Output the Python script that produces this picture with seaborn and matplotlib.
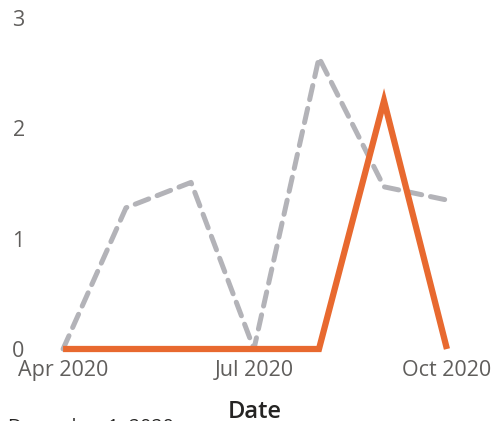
import matplotlib
matplotlib.use("Agg")
import matplotlib.pyplot as plt
import seaborn as sns
import pandas as pd

dates = ["2020-04-01", "2020-05-01", "2020-06-01", "2020-07-01",
         "2020-08-01", "2020-09-01", "2020-10-01"]
orange_values = [0, 0, 0, 0, 0, 2.25, 0]
gray_values = [0, 1.28, 1.51, 0, 2.64, 1.47, 1.35]
tick_dates = ["2020-04-01", "2020-07-01", "2020-10-01"]
tick_labels = ["Apr 2020", "Jul 2020", "Oct 2020"]
y_ticks = [0, 1, 2, 3]

sns.set_theme(style="white")
plt.rcParams["font.family"] = ["Open Sans", "DejaVu Sans"]

df = pd.DataFrame({"Date": pd.to_datetime(dates),
                   "orange": orange_values, "gray": gray_values})

fig = plt.figure(figsize=(4.92, 4.21), dpi=100)
ax = fig.add_axes([40 / 492, (421 - 349) / 421, 430 / 492, (349 - 18) / 421])

sns.lineplot(data=df, x="Date", y="gray", ax=ax, color="#B3B3B8",
             linewidth=3.6, linestyle=(0, (2.9, 1.8)), dash_capstyle="round",
             solid_joinstyle="round", clip_on=False)
sns.lineplot(data=df, x="Date", y="orange", ax=ax, color="#E8692F",
             linewidth=4.5, solid_capstyle="butt", solid_joinstyle="miter",
             clip_on=False)

ax.set_ylim(0, 3)
ax.set_xlim(pd.Timestamp("2020-04-01") - pd.Timedelta(days=11),
            pd.Timestamp("2020-10-01") + pd.Timedelta(days=11))
ax.set_yticks(y_ticks)
ax.set_yticklabels([str(v) for v in y_ticks])
ax.set_xticks(pd.to_datetime(tick_dates))
ax.set_xticklabels(tick_labels)
ax.tick_params(axis="y", length=0, pad=11, labelsize=15.5, labelcolor="#605E5C")
ax.tick_params(axis="x", length=0, pad=8, labelsize=15.5, labelcolor="#605E5C")
for s in ax.spines.values():
    s.set_visible(False)
ax.set_xlabel("")
ax.set_ylabel("")

fig.text(255 / 492, 1 - 412 / 421, "Date", ha="center", va="center",
         fontsize=17, color="#252423", fontweight="semibold")
fig.text(8 / 492, 1 - 427 / 421, "December 1, 2020", ha="left", va="center",
         fontsize=14, color="#252423")

fig.savefig("out.png", dpi=100)
